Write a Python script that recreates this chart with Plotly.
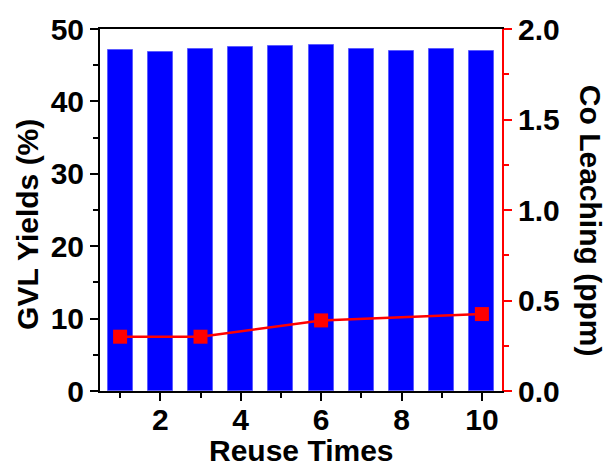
import plotly.graph_objects as go

reuse_times = [1, 2, 3, 4, 5, 6, 7, 8, 9, 10]
gvl_yields = [47.1, 46.8, 47.25, 47.55, 47.7, 47.75, 47.3, 47.0, 47.3, 46.95]
leach_times = [1, 3, 6, 10]
co_leaching = [0.30, 0.30, 0.39, 0.425]

FONT = "Liberation Sans, Arial, sans-serif"
fs = 30

fig = go.Figure()
fig.add_trace(go.Bar(x=reuse_times, y=gvl_yields, width=0.62,
                     marker=dict(color="#0000ff", line=dict(color="#5c5cff", width=1)),
                     yaxis="y", showlegend=False))
fig.add_trace(go.Scatter(x=leach_times, y=co_leaching, mode="lines+markers",
                         line=dict(color="#ff0000", width=2.5),
                         marker=dict(symbol="square", size=14, color="#ff0000"),
                         yaxis="y2", showlegend=False))

tickfont = dict(family=FONT, size=fs, color="black", weight="bold")

fig.update_layout(
    width=606, height=465,
    margin=dict(l=100, r=104, t=27, b=74),
    paper_bgcolor="white", plot_bgcolor="white",
    bargap=0,
    xaxis=dict(range=[0.5, 10.5], tickvals=[2, 4, 6, 8, 10], ticks="outside",
               ticklen=8, tickwidth=2, tickcolor="black", ticklabelstandoff=-7,
               showline=True, linewidth=2, linecolor="black", mirror=True,
               showgrid=False, zeroline=False, tickfont=tickfont,
               minor=dict(tickvals=[1, 3, 5, 7, 9], ticks="outside", ticklen=5,
                          tickwidth=2, tickcolor="black", showgrid=False)),
    yaxis=dict(range=[0, 50], dtick=10, ticks="outside", ticklen=8, tickwidth=2,
               tickcolor="black", showline=True, linewidth=2, linecolor="black",
               showgrid=False, zeroline=False, tickfont=tickfont,
               minor=dict(dtick=5, ticks="outside", ticklen=5, tickwidth=2,
                          tickcolor="black", showgrid=False)),
    yaxis2=dict(range=[0, 2], dtick=0.5, tickformat=".1f", overlaying="y", side="right",
                ticks="outside", ticklen=8, tickwidth=2, tickcolor="#ff0000",
                showline=True, linewidth=2, linecolor="#ff0000",
                showgrid=False, zeroline=False, tickfont=tickfont,
                minor=dict(dtick=0.25, ticks="outside", ticklen=5, tickwidth=2,
                           tickcolor="#ff0000", showgrid=False)),
    annotations=[
        dict(text="GVL Yields (%)", xref="paper", yref="paper", x=-0.179, y=0.459,
             xanchor="center", yanchor="middle", textangle=-90, showarrow=False,
             font=dict(family=FONT, size=fs, color="black", weight="bold")),
        dict(text="Co Leaching (ppm)", xref="paper", yref="paper", x=1.219, y=0.47,
             xanchor="center", yanchor="middle", textangle=90, showarrow=False,
             font=dict(family=FONT, size=fs, color="black", weight="bold")),
        dict(text="Reuse Times", xref="paper", yref="paper", x=0.5, y=-0.164,
             xanchor="center", yanchor="middle", showarrow=False,
             font=dict(family=FONT, size=fs, color="black", weight="bold")),
    ],
)

fig.write_html("out.html")
